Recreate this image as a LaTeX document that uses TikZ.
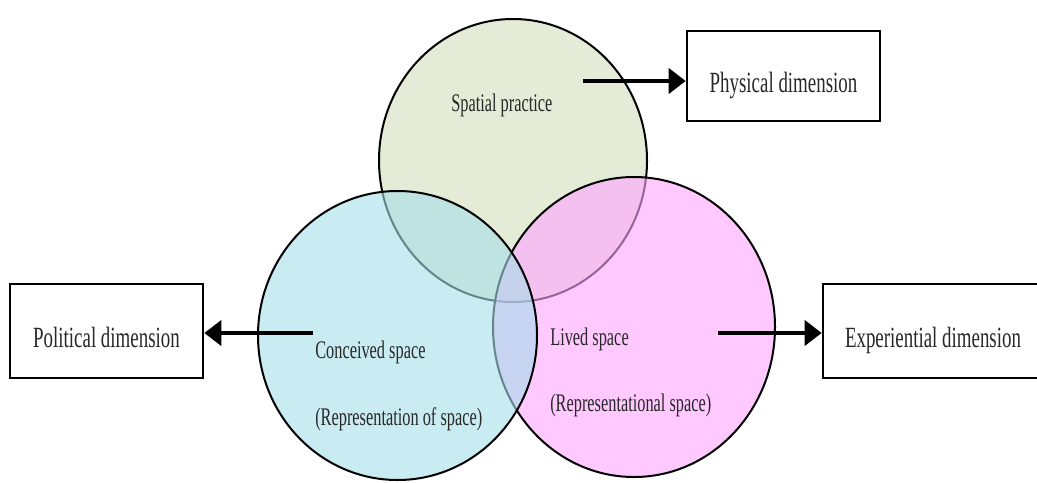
\documentclass[tikz,border=0pt]{standalone}
\usepackage{fontspec}
\setmainfont{Liberation Serif}[FakeStretch=0.645]
\usetikzlibrary{arrows.meta,positioning,shapes.geometric}
\definecolor{labtext}{RGB}{40,40,40}
\definecolor{spgreen}{RGB}{228,236,215}
\definecolor{cvblue}{RGB}{165,222,233}
\definecolor{lvpink}{RGB}{255,163,255}
\tikzset{
  spacecirc/.style={ellipse, draw=black, line width=1.5pt, inner sep=0pt},
  dimbox/.style={draw=black, line width=2pt, fill=white, align=center,
               text height=24pt, text depth=0pt, text=labtext,
               font=\fontsize{22}{26}\selectfont},
  ctext/.style={anchor=base west, inner sep=0pt, text=labtext,
               font=\fontsize{19}{22}\selectfont},
  flow/.style={-{Triangle[length=12.75pt, width=18.75pt]}, line width=3pt, draw=black},
}

\begin{document}
\begin{tikzpicture}[x=0.75pt, y=-0.75pt]
    \clip (0,0) rectangle (1037,482);
    \useasboundingbox (0,0) rectangle (1037,482);
    % the three spaces
    \node[spacecirc, fill=spgreen, minimum width=201pt, minimum height=212.25pt] (spatial) at (513,160.5) {};
    \node[spacecirc, fill=lvpink, fill opacity=0.6, minimum width=211.5pt, minimum height=225pt] (lived) at (634,327) {};
    \node[spacecirc, fill=cvblue, fill opacity=0.6, minimum width=209.25pt, minimum height=216.75pt] (conceived) at (397.5,335.5) {};
    \node[ctext] (sptext) at (451,111.7) {Spatial practice};
    \node[ctext] (cvtext) at (315,358) {Conceived space};
    \node[ctext] (cvsub) at (315,425) {(Representation of space)};
    \node[ctext] (lvtext) at (550,345) {Lived space};
    \node[ctext] (lvsub) at (550,411.7) {(Representational space)};
    % the dimensions
    \node[dimbox, minimum width=144.75pt, minimum height=67.5pt] (phys) at (783.5,76) {Physical dimension};
    \node[dimbox, minimum width=144.75pt, minimum height=70.5pt] (pol) at (106.5,331) {Political dimension};
    \node[dimbox, minimum width=165pt, minimum height=70.5pt] (exp) at (933,331) {Experiential dimension};
    \coordinate (sptail) at (583,81);
    \coordinate (cvtail) at (313,333);
    \coordinate (lvtail) at (718,333);
    \draw[flow] (sptail) -- (sptail -| phys.west);
    \draw[flow] (cvtail) -- (cvtail -| pol.east);
    \draw[flow] (lvtail) -- (lvtail -| exp.west);
  \end{tikzpicture}
\end{document}
